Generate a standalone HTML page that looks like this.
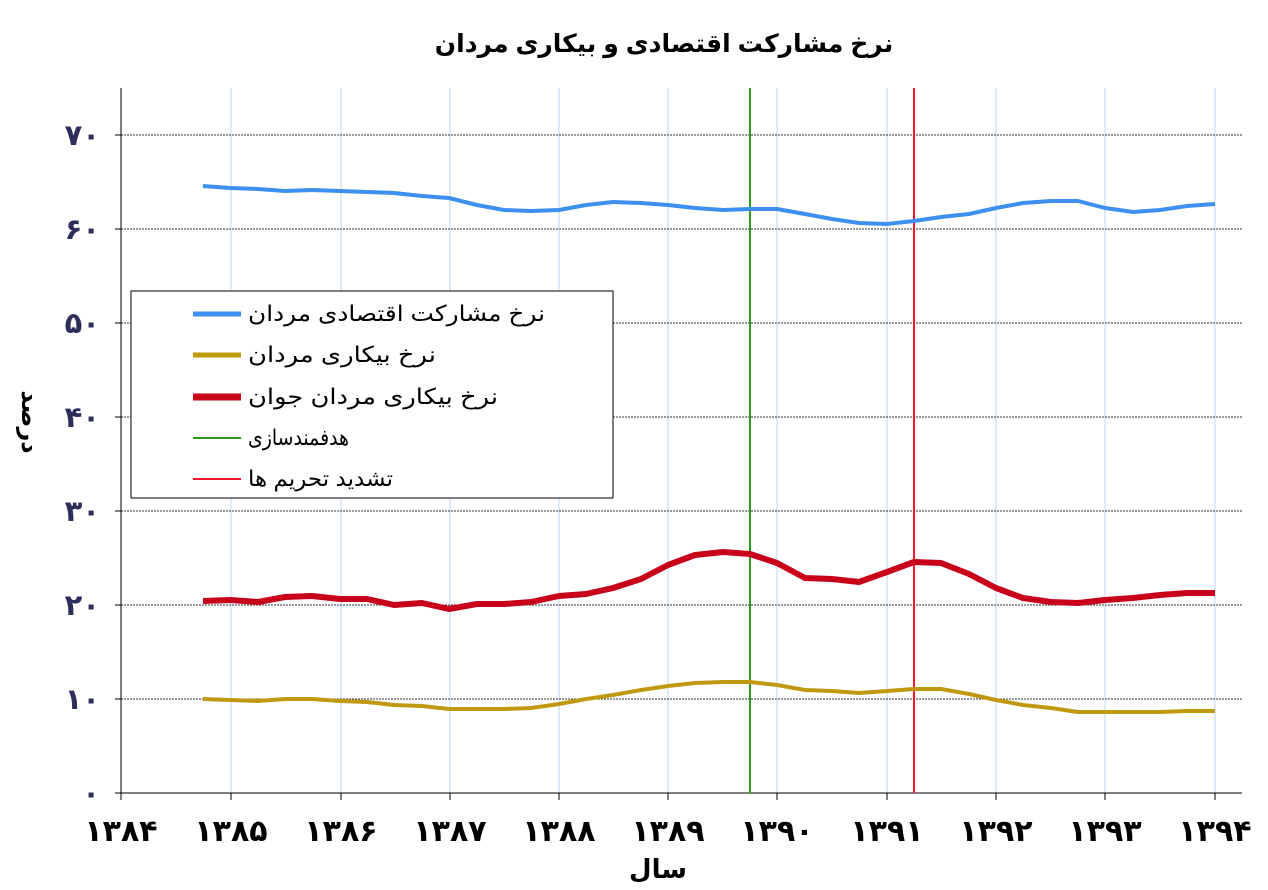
<!DOCTYPE html>
<html><head><meta charset="utf-8"><style>
body{margin:0;background:#fff}
svg text{font-family:"Liberation Sans","DejaVu Sans",sans-serif;font-weight:bold}
</style></head><body>
<svg width="1268" height="885" xmlns="http://www.w3.org/2000/svg">
<rect width="1268" height="885" fill="#fff"/>
<text x="664" y="52" font-size="25" text-anchor="middle" direction="rtl" fill="#000">نرخ مشارکت اقتصادی و بیکاری مردان</text>
<g stroke="#bcd7ee" stroke-width="1">
<line x1="231" y1="88" x2="231" y2="793"/><line x1="341" y1="88" x2="341" y2="793"/><line x1="450" y1="88" x2="450" y2="793"/><line x1="559" y1="88" x2="559" y2="793"/><line x1="668" y1="88" x2="668" y2="793"/><line x1="777" y1="88" x2="777" y2="793"/><line x1="887" y1="88" x2="887" y2="793"/><line x1="996" y1="88" x2="996" y2="793"/><line x1="1105" y1="88" x2="1105" y2="793"/><line x1="1215" y1="88" x2="1215" y2="793"/>
</g>
<g stroke="#333" stroke-width="1" stroke-dasharray="2,1">
<line x1="121" y1="135" x2="1242" y2="135"/><line x1="121" y1="229" x2="1242" y2="229"/><line x1="121" y1="323" x2="1242" y2="323"/><line x1="121" y1="417" x2="1242" y2="417"/><line x1="121" y1="511" x2="1242" y2="511"/><line x1="121" y1="605" x2="1242" y2="605"/><line x1="121" y1="699" x2="1242" y2="699"/>
</g>
<line x1="121" y1="88" x2="121" y2="793" stroke="#000"/>
<line x1="121" y1="793" x2="1242" y2="793" stroke="#000"/>
<g stroke="#000"><line x1="115" y1="135" x2="121" y2="135"/><line x1="115" y1="229" x2="121" y2="229"/><line x1="115" y1="323" x2="121" y2="323"/><line x1="115" y1="417" x2="121" y2="417"/><line x1="115" y1="511" x2="121" y2="511"/><line x1="115" y1="605" x2="121" y2="605"/><line x1="115" y1="699" x2="121" y2="699"/><line x1="115" y1="793" x2="121" y2="793"/>
<line x1="121" y1="793" x2="121" y2="800"/><line x1="231" y1="793" x2="231" y2="800"/><line x1="341" y1="793" x2="341" y2="800"/><line x1="450" y1="793" x2="450" y2="800"/><line x1="559" y1="793" x2="559" y2="800"/><line x1="668" y1="793" x2="668" y2="800"/><line x1="777" y1="793" x2="777" y2="800"/><line x1="887" y1="793" x2="887" y2="800"/><line x1="996" y1="793" x2="996" y2="800"/><line x1="1105" y1="793" x2="1105" y2="800"/><line x1="1215" y1="793" x2="1215" y2="800"/></g>
<g font-size="29" fill="#2e2e5c" text-anchor="end">
<text x="100" y="145">۷۰</text><text x="100" y="239">۶۰</text><text x="100" y="333">۵۰</text><text x="100" y="427">۴۰</text><text x="100" y="521">۳۰</text><text x="100" y="615">۲۰</text><text x="100" y="709">۱۰</text><text x="100" y="803">۰</text>
</g>
<g font-size="30" fill="#000" text-anchor="middle">
<text x="121" y="841">۱۳۸۴</text><text x="231" y="841">۱۳۸۵</text><text x="341" y="841">۱۳۸۶</text><text x="450" y="841">۱۳۸۷</text><text x="559" y="841">۱۳۸۸</text><text x="668" y="841">۱۳۸۹</text><text x="777" y="841">۱۳۹۰</text><text x="887" y="841">۱۳۹۱</text><text x="996" y="841">۱۳۹۲</text><text x="1105" y="841">۱۳۹۳</text><text x="1215" y="841">۱۳۹۴</text>
</g>
<text x="658" y="878" font-size="26" text-anchor="middle" fill="#000">سال</text>
<text transform="translate(22,422) rotate(90)" font-size="24" text-anchor="middle" fill="#000">درصد</text>
<line x1="750" y1="88" x2="750" y2="793" stroke="#2a9a1a" stroke-width="2"/>
<line x1="914" y1="88" x2="914" y2="793" stroke="#f01a2a" stroke-width="2"/>
<polyline fill="none" stroke="#3d8ff0" stroke-width="4" stroke-linejoin="round" points="203,186 230,188 258,189 285,191 312,190 340,191 367,192 394,193 422,196 449,198 477,205 504,210 531,211 559,210 586,205 613,202 641,203 668,205 695,208 723,210 750,209 777,209 805,214 832,219 859,223 887,224 914,221 941,217 969,214 996,208 1023,203 1051,201 1078,201 1105,208 1133,212 1160,210 1187,206 1215,204"/>
<polyline fill="none" stroke="#c8001a" stroke-width="6" stroke-linejoin="round" points="203,601 230,600 258,602 285,597 312,596 340,599 367,599 394,605 422,603 449,609 477,604 504,604 531,602 559,596 586,594 613,588 641,579 668,565 695,555 723,552 750,554 777,563 805,578 832,579 859,582 887,572 914,562 941,563 969,574 996,588 1023,598 1051,602 1078,603 1105,600 1133,598 1160,595 1187,593 1215,593"/>
<polyline fill="none" stroke="#bf9a10" stroke-width="4" stroke-linejoin="round" points="203,699 230,700 258,701 285,699 312,699 340,701 367,702 394,705 422,706 449,709 477,709 504,709 531,708 559,704 586,699 613,695 641,690 668,686 695,683 723,682 750,682 777,685 805,690 832,691 859,693 887,691 914,689 941,689 969,694 996,700 1023,705 1051,708 1078,712 1105,712 1133,712 1160,712 1187,711 1215,711"/>
<rect x="131" y="291" width="482" height="207" fill="#fff" stroke="#000" stroke-width="1"/>
<line x1="193" y1="314" x2="241" y2="314" stroke="#3d8ff0" stroke-width="5"/>
<line x1="193" y1="355" x2="241" y2="355" stroke="#bf9a10" stroke-width="5"/>
<line x1="193" y1="397" x2="241" y2="397" stroke="#c8001a" stroke-width="7"/>
<line x1="193" y1="438" x2="241" y2="438" stroke="#2a9a1a" stroke-width="2"/>
<line x1="193" y1="479" x2="241" y2="479" stroke="#f01a2a" stroke-width="2"/>
<g font-size="22" fill="#000">
<text x="248" y="321" style="font-weight:normal" textLength="297" lengthAdjust="spacingAndGlyphs">نرخ مشارکت اقتصادی مردان</text>
<text x="248" y="362" style="font-weight:normal" textLength="188" lengthAdjust="spacingAndGlyphs">نرخ بیکاری مردان</text>
<text x="248" y="404" style="font-weight:normal" textLength="250" lengthAdjust="spacingAndGlyphs">نرخ بیکاری مردان جوان</text>
<text x="248" y="445" style="font-weight:normal" textLength="101" lengthAdjust="spacingAndGlyphs">هدفمندسازی</text>
<text x="248" y="486" style="font-weight:normal" textLength="145" lengthAdjust="spacingAndGlyphs">تشدید تحریم ها</text>
</g>
</svg>
</body></html>
